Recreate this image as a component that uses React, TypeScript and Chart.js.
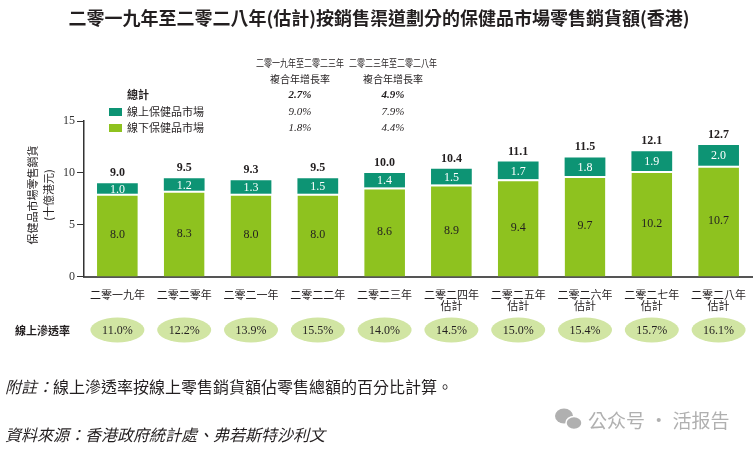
import React, { useEffect, useRef } from "react";
import { Chart, registerables } from "chart.js";

Chart.register(...registerables);

const categories: string[][] = [
  ["二零一九年"],
  ["二零二零年"],
  ["二零二一年"],
  ["二零二二年"],
  ["二零二三年"],
  ["二零二四年", "估計"],
  ["二零二五年", "估計"],
  ["二零二六年", "估計"],
  ["二零二七年", "估計"],
  ["二零二八年", "估計"],
];
const offlineValues = [8.0, 8.3, 8.0, 8.0, 8.6, 8.9, 9.4, 9.7, 10.2, 10.7];
const onlineValues = [1.0, 1.2, 1.3, 1.5, 1.4, 1.5, 1.7, 1.8, 1.9, 2.0];
const totalValues = [9.0, 9.5, 9.3, 9.5, 10.0, 10.4, 11.1, 11.5, 12.1, 12.7];
const penetration = ["11.0%", "12.2%", "13.9%", "15.5%", "14.0%", "14.5%", "15.0%", "15.4%", "15.7%", "16.1%"];
const yTicks = [0, 5, 10, 15];

const cagrHeaders = [
  ["二零一九年至二零二三年", "複合年增長率"],
  ["二零二三年至二零二八年", "複合年增長率"],
];
const cagrTotal = ["2.7%", "4.9%"];
const cagrOnline = ["9.0%", "7.9%"];
const cagrOffline = ["1.8%", "4.4%"];

const TITLE = "二零一九年至二零二八年(估計)按銷售渠道劃分的保健品市場零售銷貨額(香港)";
const Y_TITLE = ["保健品市場零售銷貨", "(十億港元)"];
const ONLINE_NAME = "線上保健品市場";
const OFFLINE_NAME = "線下保健品市場";
const TOTAL_NAME = "總計";
const PEN_NAME = "線上滲透率";
const NOTE_LABEL = "附註：";
const NOTE_TEXT = "線上滲透率按線上零售銷貨額佔零售總額的百分比計算。";
const SOURCE = "資料來源：香港政府統計處、弗若斯特沙利文";
const WATERMARK = "公众号 · 活报告";

const TEAL = "#0d9474";
const LIME = "#8ec21f";
const ELLIPSE = "#d1e5a3";
const TEXT = "#231f20";
const CJK = '"Noto Sans CJK TC", "Noto Sans CJK SC", sans-serif';
const SERIF = '"Liberation Serif", "DejaVu Serif", serif';

const overlay = {
  id: "overlay",
  afterDraw(chart: any) {
    const ctx: CanvasRenderingContext2D = chart.ctx;
    const x = chart.scales.x;
    const y = chart.scales.y;
    ctx.save();

    // Title
    ctx.fillStyle = TEXT;
    ctx.textAlign = "center";
    ctx.textBaseline = "middle";
    ctx.font = `bold 18px ${CJK}`;
    ctx.fillText(TITLE, 379, 18, 624);

    // CAGR table
    const colX = [300, 393];
    ctx.font = `10px ${CJK}`;
    cagrHeaders.forEach((h, i) => {
      ctx.fillText(h[0], colX[i], 63, 88);
      ctx.fillText(h[1], colX[i], 79);
    });
    ctx.font = `italic bold 11px ${SERIF}`;
    cagrTotal.forEach((v, i) => ctx.fillText(v, colX[i], 95));
    ctx.font = `italic 11px ${SERIF}`;
    cagrOnline.forEach((v, i) => ctx.fillText(v, colX[i], 112));
    cagrOffline.forEach((v, i) => ctx.fillText(v, colX[i], 128));

    // Legend
    ctx.textAlign = "left";
    ctx.font = `bold 11px ${CJK}`;
    ctx.fillText(TOTAL_NAME, 127, 95);
    ctx.font = `11px ${CJK}`;
    ctx.fillStyle = TEAL;
    ctx.fillRect(109, 108, 13, 8);
    ctx.fillStyle = LIME;
    ctx.fillRect(109, 124, 13, 8);
    ctx.fillStyle = TEXT;
    ctx.fillText(ONLINE_NAME, 127, 112);
    ctx.fillText(OFFLINE_NAME, 127, 128);

    // Y title
    ctx.save();
    ctx.translate(41, 195);
    ctx.rotate(-Math.PI / 2);
    ctx.textAlign = "center";
    ctx.font = `11px ${CJK}`;
    ctx.fillText(Y_TITLE[0], 0, -8);
    ctx.fillText(Y_TITLE[1], 0, 8);
    ctx.restore();

    // Data labels
    ctx.textAlign = "center";
    const m0 = chart.getDatasetMeta(0);
    const m1 = chart.getDatasetMeta(1);
    for (let i = 0; i < categories.length; i++) {
      const b0 = m0.data[i];
      const b1 = m1.data[i];
      ctx.font = `12px ${SERIF}`;
      ctx.fillStyle = TEXT;
      ctx.fillText(offlineValues[i].toFixed(1), b0.x, (b0.y + b0.base) / 2);
      ctx.fillStyle = "#ffffff";
      ctx.fillText(onlineValues[i].toFixed(1), b1.x, (b1.y + b1.base) / 2 + 1);
      ctx.fillStyle = TEXT;
      ctx.font = `bold 12px ${SERIF}`;
      ctx.fillText(totalValues[i].toFixed(1), b1.x, y.getPixelForValue(totalValues[i]) - 10);
    }

    // Penetration row
    ctx.textAlign = "left";
    ctx.font = `bold 11px ${CJK}`;
    ctx.fillStyle = TEXT;
    ctx.fillText(PEN_NAME, 15, 331);
    ctx.textAlign = "center";
    for (let i = 0; i < categories.length; i++) {
      const cx = x.getPixelForValue(i);
      ctx.beginPath();
      ctx.ellipse(cx, 330, 27, 12.5, 0, 0, Math.PI * 2);
      ctx.fillStyle = ELLIPSE;
      ctx.fill();
      ctx.fillStyle = TEXT;
      ctx.font = `12px ${SERIF}`;
      ctx.fillText(penetration[i], cx, 331);
    }

    // Footnotes
    ctx.textAlign = "left";
    ctx.fillStyle = TEXT;
    ctx.font = `italic 16px ${CJK}`;
    ctx.fillText(NOTE_LABEL, 5, 387);
    const nw = ctx.measureText(NOTE_LABEL).width;
    ctx.font = `16px ${CJK}`;
    ctx.fillText(NOTE_TEXT, 5 + nw, 387);
    ctx.font = `italic 16px ${CJK}`;
    ctx.fillText(SOURCE, 5, 435);

    // Watermark
    ctx.fillStyle = "#b0b0b0";
    ctx.beginPath();
    ctx.ellipse(564, 416, 9, 7.5, 0, 0, Math.PI * 2);
    ctx.fill();
    ctx.beginPath();
    ctx.ellipse(574, 423, 8, 6.5, 0, 0, Math.PI * 2);
    ctx.fill();
    ctx.strokeStyle = "#ffffff";
    ctx.lineWidth = 1.5;
    ctx.stroke();
    ctx.fillStyle = "#b0b0b0";
    ctx.font = `19px ${CJK}`;
    ctx.fillText(WATERMARK, 588, 421);

    ctx.restore();
  },
};

export default function App() {
  const ref = useRef<HTMLCanvasElement>(null);
  useEffect(() => {
    document.body.style.margin = "0";
    const chart = new Chart(ref.current!, {
      type: "bar",
      data: {
        labels: categories,
        datasets: [
          {
            label: OFFLINE_NAME,
            data: offlineValues,
            backgroundColor: LIME,
            borderColor: "#ffffff",
            borderWidth: { top: 2, right: 0, bottom: 0, left: 0 },
            borderSkipped: false,
            barPercentage: 0.61,
            categoryPercentage: 1,
          },
          {
            label: ONLINE_NAME,
            data: onlineValues,
            backgroundColor: TEAL,
            borderWidth: 0,
            barPercentage: 0.61,
            categoryPercentage: 1,
          },
        ],
      },
      options: {
        animation: false,
        responsive: false,
        layout: { padding: { left: 61, right: 4, top: 121, bottom: 134 } },
        plugins: {
          legend: { display: false },
          tooltip: { enabled: false },
          title: { display: false },
        },
        scales: {
          x: {
            stacked: true,
            grid: { display: false },
            border: { display: true, color: "#555555", width: 2 },
            ticks: {
              color: TEXT,
              font: { family: CJK, size: 11, lineHeight: 1.05 },
              padding: 4,
              maxRotation: 0,
              autoSkip: false,
            },
          },
          y: {
            stacked: true,
            min: 0,
            max: 15,
            afterBuildTicks: (axis: any) => {
              axis.ticks = yTicks.map((v) => ({ value: v }));
            },
            grid: {
              display: true,
              drawOnChartArea: false,
              drawTicks: true,
              tickLength: 7,
              color: "#333333",
              lineWidth: 1,
            },
            border: { display: true, color: "#333333", width: 1.5 },
            ticks: {
              color: "#333333",
              font: { family: SERIF, size: 12 },
              padding: 2,
            },
          },
        },
      },
      plugins: [overlay],
    });
    return () => chart.destroy();
  }, []);
  return <canvas ref={ref} width={756} height={450} style={{ display: "block" }} />;
}
